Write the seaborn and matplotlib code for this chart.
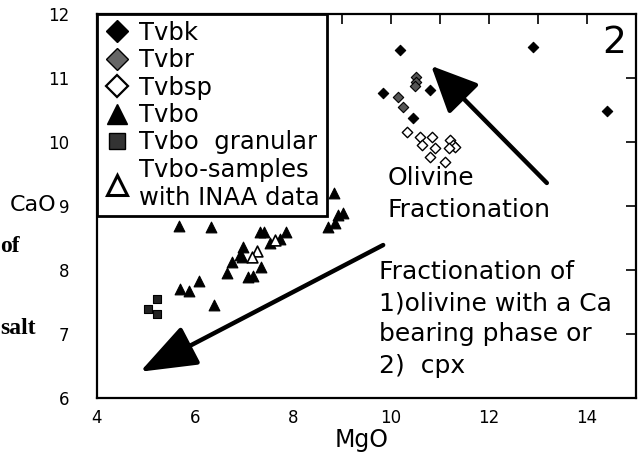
import matplotlib
matplotlib.use("Agg")
import matplotlib.pyplot as plt
import seaborn as sns
import pandas as pd
from matplotlib.lines import Line2D

# ---- data ----
tvbk_mgo = [10.18, 12.90, 14.41, 9.84, 10.80, 10.45]
tvbk_cao = [11.44, 11.48, 10.48, 10.77, 10.81, 10.38]

tvbr_mgo = [10.50, 10.52, 10.48, 10.14, 10.24]
tvbr_cao = [11.02, 10.94, 10.88, 10.70, 10.55]

tvbsp_mgo = [10.33, 10.60, 10.84, 10.63, 10.90, 11.20, 11.26, 11.30, 11.18, 10.80, 11.10]
tvbsp_cao = [10.16, 10.08, 10.08, 9.95, 9.90, 10.03, 9.95, 9.92, 9.90, 9.77, 9.69]

tvbo_mgo = [5.67, 6.33, 6.08, 5.69, 5.88, 6.39, 6.65, 6.76, 6.96, 6.98, 7.18, 7.35,
            7.33, 7.40, 7.53, 7.73, 7.86, 8.71, 8.86, 8.92, 9.02, 8.84, 6.92, 7.08]
tvbo_cao = [8.69, 8.67, 7.83, 7.70, 7.67, 7.45, 7.95, 8.13, 8.20, 8.36, 7.91, 8.05,
            8.59, 8.60, 8.42, 8.48, 8.59, 8.67, 8.73, 8.86, 8.89, 9.20, 8.23, 7.89]

gran_mgo = [5.22, 5.04, 5.22]
gran_cao = [7.55, 7.39, 7.31]

inaa_mgo = [7.27, 7.16, 7.63]
inaa_cao = [8.30, 8.21, 8.47]

legend_labels = ["Tvbk", "Tvbr", "Tvbsp", "Tvbo", "Tvbo  granular", "Tvbo-samples\nwith INAA data"]
x_ticks = [4, 6, 8, 10, 12, 14]
y_ticks = [6, 7, 8, 9, 10, 11, 12]

sns.set_style("white")
plt.rcParams['font.family'] = ['DejaVu Sans']
plt.rcParams['text.color'] = 'black'
plt.rcParams['axes.labelcolor'] = 'black'
plt.rcParams['xtick.color'] = 'black'
plt.rcParams['ytick.color'] = 'black'

fig = plt.figure(figsize=(6.39, 4.65), dpi=100)
ax = fig.add_axes([97/639, 1-398/465, (636-97)/639, (398-14)/465])

def sc(x, y, marker, size, face, edge, lw=0.8):
    df = pd.DataFrame({"MgO": x, "CaO": y})
    sns.scatterplot(data=df, x="MgO", y="CaO", ax=ax, marker=marker, s=size,
                    color=face, edgecolor=edge, linewidth=lw, zorder=3)

sc(tvbk_mgo, tvbk_cao, "D", 28, "black", "black")
sc(tvbr_mgo, tvbr_cao, "D", 28, "#555555", "black")
sc(tvbsp_mgo, tvbsp_cao, "D", 28, "white", "black", 1.0)
sc(tvbo_mgo, tvbo_cao, "^", 60, "black", "black")
sc(gran_mgo, gran_cao, "s", 26, "#222222", "black")
sc(inaa_mgo, inaa_cao, "^", 60, "white", "black", 1.2)

ax.set_xlim(4, 15)
ax.set_ylim(6, 12)
ax.set_xlabel("")
ax.set_ylabel("")

for sp in ax.spines.values():
    sp.set_linewidth(1.6)
    sp.set_color("black")

ax.set_xticks(list(range(4, 16)))
ax.set_xticklabels([str(v) if v in x_ticks else "" for v in range(4, 16)])
ax.set_xticks([5, 10, 15], minor=True)
ax.set_yticks(y_ticks)
ax.set_yticklabels([str(v) for v in y_ticks])
ax.tick_params(axis="both", which="major", direction="in", length=7, width=1.2,
               top=True, right=True, labelsize=12, colors="black")
ax.tick_params(axis="x", which="minor", direction="in", length=15, width=1.2, top=True)
ax.tick_params(axis="x", which="major", pad=8)
ax.tick_params(axis="y", which="major", pad=20)

# legend
handles = [
    Line2D([], [], ls="", marker="D", ms=11, mfc="black", mec="black"),
    Line2D([], [], ls="", marker="D", ms=11, mfc="#666666", mec="black"),
    Line2D([], [], ls="", marker="D", ms=11, mfc="white", mec="black", mew=1.6),
    Line2D([], [], ls="", marker="^", ms=15, mfc="black", mec="black"),
    Line2D([], [], ls="", marker="s", ms=11, mfc="#333333", mec="black"),
    Line2D([], [], ls="", marker="^", ms=14, mfc="white", mec="black", mew=2.2),
]
leg = ax.legend(handles, legend_labels, loc="upper left", bbox_to_anchor=(0, 1),
                borderaxespad=0, fancybox=False, framealpha=1, edgecolor="black",
                fontsize=17.5, labelspacing=0.14, handletextpad=0.4, borderpad=0.28,
                handlelength=1.05)
leg.get_frame().set_linewidth(2)
leg.set_zorder(5)

# arrows
ax.annotate("", xy=(10.82, 11.19), xytext=(13.18, 9.36),
            arrowprops=dict(arrowstyle="-|>,head_length=1.3,head_width=0.6",
                            lw=3.2, color="black", mutation_scale=22, shrinkA=0, shrinkB=0))
ax.annotate("", xy=(4.88, 6.41), xytext=(9.84, 8.39),
            arrowprops=dict(arrowstyle="-|>,head_length=1.6,head_width=0.6",
                            lw=3.2, color="black", mutation_scale=22, shrinkA=0, shrinkB=0))

# texts
ax.text(14.8, 11.55, "2", fontsize=27, ha="right", va="center")
ax.text(0.539, (398-166)/384, "Olivine\nFractionation", transform=ax.transAxes,
        fontsize=18, ha="left", va="top", linespacing=1.4)
ax.text(0.524, (398-260)/384, "Fractionation of\n1)olivine with a Ca\nbearing phase or\n2)  cpx",
        transform=ax.transAxes, fontsize=18, ha="left", va="top", linespacing=1.38)

fig.text(362/639, 1-440/465, "MgO", fontsize=17, ha="center", va="center")
fig.text(10/639, 1-205/465, "CaO", fontsize=16, ha="left", va="center")
fig.text(0/639, 1-247/465, "of", fontsize=17, ha="left", va="center",
         family="Liberation Serif", weight="bold")
fig.text(0/639, 1-329/465, "salt", fontsize=17, ha="left", va="center",
         family="Liberation Serif", weight="bold")

fig.savefig("out.png", dpi=100)
